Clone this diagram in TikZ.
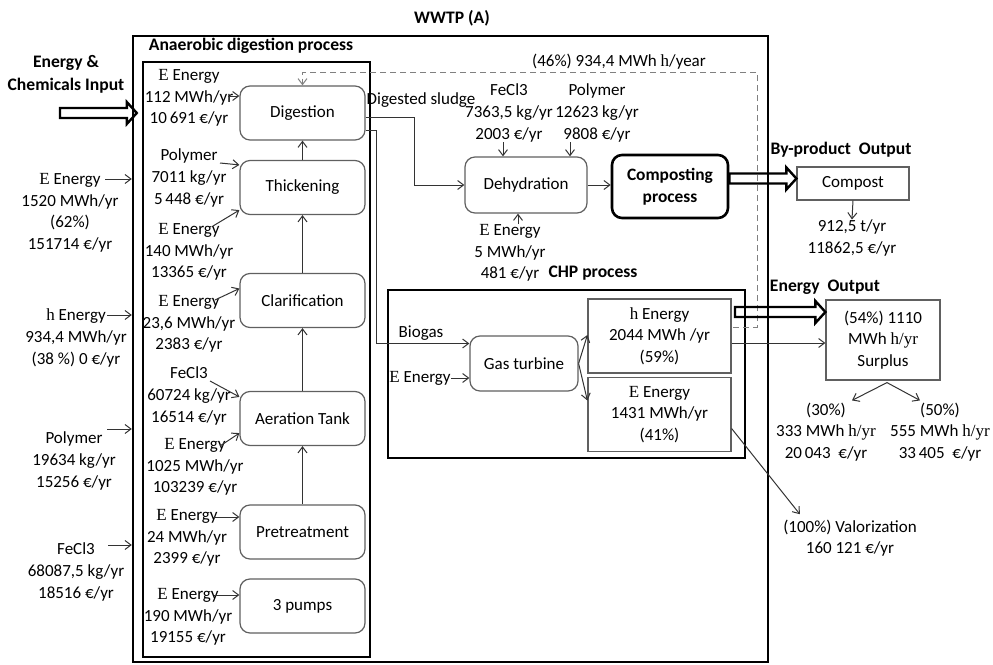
\documentclass[tikz,border=0pt]{standalone}
\usepackage{fontspec}
\setmainfont{Carlito}
\newfontfamily\symfont{Liberation Serif}
\usetikzlibrary{positioning, arrows.meta, calc}
\newcommand\elec{{\symfont E}}
\newcommand\heat{{\symfont h}}

\begin{document}
\begin{tikzpicture}[x=0.5pt, y=-0.5pt, >={Straight Barb[length=3pt, width=4.5pt]},
    every node/.style={font=\fontsize{8.5}{10.8}\selectfont, inner sep=0pt, align=center},
    hdr/.style={font=\bfseries\fontsize{8.8}{11.5}\selectfont},
    proc/.style={draw=gray!75!black, rounded corners=5pt, line width=0.6pt, minimum width=62.5pt, minimum height=27pt},
    res/.style={draw=gray!75!black, line width=0.6pt, minimum width=71.5pt, minimum height=37pt},
    boxframe/.style={draw, line width=1.4pt},
    flow/.style={->, draw=black!80, line width=0.5pt},
    back/.style={->, densely dashed, draw=gray, line width=0.5pt},
    hollow/.style={draw, line width=1.2pt, line join=miter, to path={let \p1=(\tikztostart), \p2=(\tikztotarget) in
        (\x1,\y1+2.5pt) -- (\x2-5pt,\y1+2.5pt) -- (\x2-5pt,\y1+5.5pt) -- (\x2,\y1)
        -- (\x2-5pt,\y1-5.5pt) -- (\x2-5pt,\y1-2.5pt) -- (\x1,\y1-2.5pt) -- cycle}}]
    \useasboundingbox (0,0) rectangle (993,665);

    \node[boxframe, line width=1.2pt, minimum width=317.5pt, minimum height=313pt] (wwtp) at (450.5,349) {};
    \node[boxframe, minimum width=113.5pt, minimum height=297.5pt] (ad) at (256.5,359.5) {};
    \node[boxframe, minimum width=178.5pt, minimum height=84pt] (chp) at (566.5,374) {};
    \node[hdr] (tWwtp) at (452,18) {WWTP (A)};
    \node[hdr] (tAd) at (251,46) {Anaerobic digestion process};
    \node[hdr] (tChp) at (593,273) {CHP process};

    \node[proc] (dig) at (302.5,113) {Digestion};
    \node[proc] (thk) at (302.5,187.5) {Thickening};
    \node[proc] (clar) at (302.5,300.5) {Clarification};
    \node[proc] (aer) at (302.5,418.5) {Aeration Tank};
    \node[proc] (pre) at (302.5,532) {Pretreatment};
    \node[proc] (pump) at (302.5,606) {3 pumps};
    \path[flow] (pre) edge (aer) (aer) edge (clar) (clar) edge (thk) (thk) edge (dig);

    \node (lDig) at (189,98) {\elec\ Energy\\112 MWh/yr\\10\,691 €/yr};
    \node (lThkP) at (189,178) {Polymer\\7011 kg/yr\\5\,448 €/yr};
    \node (lThkE) at (189,252) {\elec\ Energy\\140 MWh/yr\\13365 €/yr};
    \node (lClar) at (189,324) {\elec\ Energy\\23,6 MWh/yr\\2383 €/yr};
    \node (lAerF) at (189,396) {FeCl3\\60724 kg/yr\\16514 €/yr};
    \node (lAerE) at (195,467) {\elec\ Energy\\1025 MWh/yr\\103239 €/yr};
    \node (lPre) at (187,538) {\elec\ Energy\\24 MWh/yr\\2399 €/yr};
    \node (lPump) at (188,617) {\elec\ Energy\\190 MWh/yr\\19155 €/yr};
    \coordinate (sDig) at (228,96);
    \coordinate (sThkP) at (220,163);
    \coordinate (sThkE) at (213,226);
    \coordinate (sClar) at (215,300);
    \coordinate (sAerF) at (210,381);
    \coordinate (sAerE) at (220,446);
    \coordinate (sPre) at (213,517);
    \coordinate (sPump) at (214,595);
    \draw[flow] (sDig) -- (dig.west |- sDig);
    \draw[flow] (sThkP) -- ($(thk.north west)+(0,5)$);
    \draw[flow] (sThkE) -- ($(thk.south west)+(0,-5)$);
    \draw[flow] (sClar) -- ($(clar.west)+(0,-12)$);
    \draw[flow] (sAerF) -- ($(aer.north west)+(0,6)$);
    \draw[flow] (sAerE) -- ($(aer.south west)+(0,-13)$);
    \draw[flow] (sPre) -- (pre.west |- sPre);
    \draw[flow] (sPump) -- (pump.west |- sPump);

    \node[hdr] (tIn) at (66,74) {Energy \&\\Chemicals Input};
    \coordinate (inStart) at (60,113);
    \draw[hollow] (inStart) to ($(wwtp.west |- inStart)+(5,0)$);
    \node (inE) at (70,213) {\elec\ Energy\\1520 MWh/yr\\(62\%)\\151714 €/yr};
    \node (inH) at (76,338) {\heat\ Energy\\934,4 MWh/yr\\(38 \%) 0 €/yr};
    \node (inP) at (74,461) {Polymer\\19634 kg/yr\\15256 €/yr};
    \node (inF) at (76,572) {FeCl3\\68087,5 kg/yr\\18516 €/yr};
    \coordinate (sInE) at (105,179);
    \coordinate (sInH) at (107,315);
    \coordinate (sInP) at (107,429);
    \coordinate (sInF) at (108,545);
    \draw[flow] (sInE) -- (wwtp.west |- sInE);
    \draw[flow] (sInH) -- (wwtp.west |- sInH);
    \draw[flow] (sInP) -- (wwtp.west |- sInP);
    \draw[flow] (sInF) -- (wwtp.west |- sInF);

    \node[proc, minimum width=61pt, minimum height=28pt] (deh) at (526,185) {Dehydration};
    \node[proc, draw=black, line width=1.3pt, minimum width=58pt, minimum height=31.5pt,
        font=\bfseries\fontsize{8.7}{11}\selectfont] (comp) at (670,186.5) {Composting\\process};
    \node (tSludge) at (421,100) {Digested sludge};
    \draw[flow] ($(dig.east)+(0,4)$) -| ($(deh.west)+(-50,0)$) -- (deh.west);
    \draw[flow] (deh) -- (comp.west |- deh.east);
    \node (fDeh) at (509,113) {FeCl3\\7363,5 kg/yr\\2003 €/yr};
    \node (pDeh) at (597,113) {Polymer\\12623 kg/yr\\9808 €/yr};
    \node (eDeh) at (510,253) {\elec\ Energy\\5 MWh/yr\\481 €/yr};
    \draw[flow] ($(fDeh.south)+(-6,0)$) -- ($(fDeh.south |- deh.north)+(-6,0)$);
    \draw[flow] ($(pDeh.south)+(-27,0)$) -- ($(pDeh.south |- deh.north)+(-27,0)$);
    \draw[flow] ($(eDeh.north)+(8,0)$) -- ($(eDeh.north |- deh.south)+(8,0)$);

    \node (tPercent) at (619,62) {(46\%) 934,4 MWh~\heat/year};
    \coordinate (dRet) at (733,327);
    \draw[back] (dRet) -| (757,72) -| (dig.north);

    \node[proc, minimum width=54pt, minimum height=27.5pt] (gt) at (524,363.5) {Gas turbine};
    \node (tBiogas) at (421,333) {Biogas};
    \draw[flow] ($(dig.east)+(0,17)$) -| ($(gt.west)+(-93,-20)$) -- ($(gt.west)+(0,-20)$);
    \node (eGt) at (420,378) {\elec\ Energy};
    \draw[flow] (eGt.east) -- (gt.west |- eGt.east);
    \node[res] (hb) at (659.5,336) {\heat\ Energy\\2044 MWh /yr\\(59\%)};
    \node[res] (eb) at (659.5,414.5) {\elec\ Energy\\1431 MWh/yr\\(41\%)};
    \draw[flow] (gt.east) -- ($(hb.west)+(0,-1)$);
    \draw[flow] (gt.east) -- ($(eb.west)+(0,-14)$);

    \node[hdr] (tBy) at (841,150) {By-product~~Output};
    \node[res, minimum width=56pt, minimum height=16.5pt] (cpst) at (853,183.5) {Compost};
    \node (cVal) at (852,238) {912,5 t/yr\\11862,5 €/yr};
    \draw[flow] (cpst.south) -- (cVal.north);
    \draw[hollow] ($(comp.east)+(0,-8)$) to (cpst.west);

    \node[hdr] (tEo) at (825,287) {Energy~~Output};
    \node[res, minimum width=57pt, minimum height=40pt] (sur) at (883,340) {(54\%) 1110\\MWh {\symfont h/yr}\\Surplus};
    \coordinate (eoStart) at (735,312);
    \draw[hollow] (eoStart) to (sur.west |- eoStart);
    \draw[flow] ($(hb.east)+(0,7)$) -- ($(sur.west)+(0,3)$);
    \node (s30) at (826,432) {(30\%)\\333 MWh {\symfont h/yr}\\20\,043~~€/yr};
    \node (s50) at (940,432) {(50\%)\\555 MWh {\symfont h/yr}\\33\,405~~€/yr};
    \draw[flow] ($(sur.south)+(4,2)$) -- ($(s30.north)+(26,-2)$);
    \draw[flow] ($(sur.south)+(4,2)$) -- ($(s50.north)+(-20,-2)$);
    \node (val) at (850,538) {(100\%) Valorization\\160 121 €/yr};
    \draw[flow] ($(eb.east)+(0,14)$) -- ($(val.north west)+(17,-5)$);
\end{tikzpicture}
\end{document}
